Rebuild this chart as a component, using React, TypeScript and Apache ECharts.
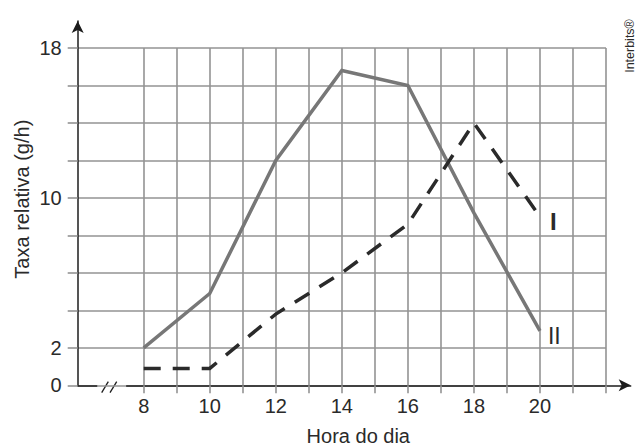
import React, { useEffect, useRef } from "react";
import * as echarts from "echarts";

// Data
const hours = [8, 10, 12, 14, 16, 18, 20];
const seriesI = [0.9, 0.9, 3.8, 6, 8.6, 14, 9];
const seriesII = [2, 4.9, 12, 16.8, 16, 9.2, 2.9];
const xTickLabels = [8, 10, 12, 14, 16, 18, 20];
const yTickLabels = [0, 2, 10, 18];

const W = 638;
const H = 446;
const FONT = "'Liberation Sans', Arial, sans-serif";
const GRID_COLOR = "#939393";
const AXIS_COLOR = "#1c1c1c";
const TEXT_COLOR = "#2a2a2a";

export default function App() {
  const ref = useRef<HTMLDivElement>(null);

  useEffect(() => {
    if (!ref.current) return;
    const chart = echarts.init(ref.current, null, { renderer: "svg" });

    const bottom = H - 385.3;
    const right = W - 606;
    const hidden = { show: false, min: 0, max: 1 };

    const option: any = {
      animation: false,
      backgroundColor: "#ffffff",
      textStyle: { fontFamily: FONT },
      grid: [
        { left: 77.7, right, top: 48, bottom },
        { left: 143.7, right, top: 48, bottom },
        { left: 77.7, width: 10, top: 21, bottom },
        { left: 126.7, right: W - 630.7, top: 48, bottom },
        { left: 77.7, width: 19, top: 48, bottom },
      ],
      xAxis: [
        { gridIndex: 0, type: "value", ...hidden },
        {
          gridIndex: 1,
          type: "value",
          min: 8,
          max: 22,
          interval: 1,
          axisLine: { show: false, onZero: false },
          axisTick: { show: true, length: 8, inside: false, lineStyle: { color: GRID_COLOR, width: 1.6 } },
          axisLabel: {
            margin: 11,
            fontSize: 20,
            fontFamily: FONT,
            color: TEXT_COLOR,
            formatter: (v: number) => (xTickLabels.includes(v) ? String(v) : ""),
          },
          splitLine: { show: true, lineStyle: { color: GRID_COLOR, width: 1.6 } },
        },
        { gridIndex: 2, type: "value", ...hidden },
        {
          gridIndex: 3,
          type: "value",
          min: 0,
          max: 1,
          axisLine: {
            show: true,
            onZero: false,
            symbol: ["none", "arrow"],
            symbolSize: [9, 12],
            lineStyle: { color: AXIS_COLOR, width: 1.5 },
          },
          axisTick: { show: false },
          axisLabel: { show: false },
          splitLine: { show: false },
        },
        {
          gridIndex: 4,
          type: "value",
          min: 0,
          max: 1,
          axisLine: { show: true, onZero: false, lineStyle: { color: AXIS_COLOR, width: 1.5 } },
          axisTick: { show: false },
          axisLabel: { show: false },
          splitLine: { show: false },
        },
      ],
      yAxis: [
        {
          gridIndex: 0,
          type: "value",
          min: 0,
          max: 18,
          interval: 2,
          axisLine: { show: false, onZero: false },
          axisTick: { show: true, length: 10, inside: false, lineStyle: { color: GRID_COLOR, width: 1.6 } },
          axisLabel: {
            margin: 16,
            fontSize: 20,
            fontFamily: FONT,
            color: TEXT_COLOR,
            formatter: (v: number) => (yTickLabels.includes(v) ? String(v) : ""),
          },
          splitLine: { show: true, lineStyle: { color: GRID_COLOR, width: 1.6 } },
        },
        { gridIndex: 1, type: "value", min: 0, max: 18, show: false },
        {
          gridIndex: 2,
          type: "value",
          min: 0,
          max: 1,
          name: "Taxa relativa (g/h)",
          nameLocation: "middle",
          nameGap: 46,
          nameTextStyle: { fontSize: 20, fontFamily: FONT, color: TEXT_COLOR, padding: [0, 0, 0, 8] },
          axisLine: {
            show: true,
            onZero: false,
            symbol: ["none", "arrow"],
            symbolSize: [9, 12],
            lineStyle: { color: AXIS_COLOR, width: 1.5 },
          },
          axisTick: { show: false },
          axisLabel: { show: false },
          splitLine: { show: false },
        },
        { gridIndex: 3, type: "value", ...hidden },
        { gridIndex: 4, type: "value", ...hidden },
      ],
      series: [
        {
          name: "II",
          type: "line",
          xAxisIndex: 1,
          yAxisIndex: 1,
          data: hours.map((h, i) => [h, seriesII[i]]),
          symbol: "none",
          lineStyle: { color: "#777777", width: 3.5, join: "miter" },
          endLabel: {
            show: true,
            formatter: "II",
            distance: 8,
            offset: [0, 5],
            fontSize: 23,
            fontFamily: FONT,
            color: TEXT_COLOR,
          },
          z: 3,
        },
        {
          name: "I",
          type: "line",
          xAxisIndex: 1,
          yAxisIndex: 1,
          data: hours.map((h, i) => [h, seriesI[i]]),
          symbol: "none",
          lineStyle: { color: "#2a2a2a", width: 3.5, type: [17, 12], cap: "butt", join: "miter" },
          endLabel: {
            show: true,
            formatter: "I",
            distance: 10,
            offset: [0, 5],
            fontSize: 24,
            fontWeight: "bold",
            fontFamily: FONT,
            color: TEXT_COLOR,
          },
          z: 4,
        },
      ],
      graphic: [
        {
          type: "line",
          shape: { x1: 101.7, y1: 392.7, x2: 108.3, y2: 381.7 },
          style: { stroke: AXIS_COLOR, lineWidth: 1.3 },
        },
        {
          type: "line",
          shape: { x1: 110, y1: 392.7, x2: 116.7, y2: 381.7 },
          style: { stroke: AXIS_COLOR, lineWidth: 1.3 },
        },
        {
          type: "text",
          x: 358.3,
          y: 436,
          style: {
            text: "Hora do dia",
            fontSize: 20,
            fontFamily: FONT,
            fill: TEXT_COLOR,
            textAlign: "center",
            textVerticalAlign: "middle",
          },
        },
        {
          type: "text",
          x: 630,
          y: 46,
          rotation: Math.PI / 2,
          style: {
            text: "Interbits®",
            fontSize: 12.5,
            fontFamily: FONT,
            fill: TEXT_COLOR,
            textAlign: "center",
            textVerticalAlign: "middle",
          },
        },
      ],
    };

    chart.setOption(option);
    return () => chart.dispose();
  }, []);

  return (
    <div
      ref={ref}
      style={{ position: "absolute", left: 0, top: 0, width: W, height: H }}
    />
  );
}
